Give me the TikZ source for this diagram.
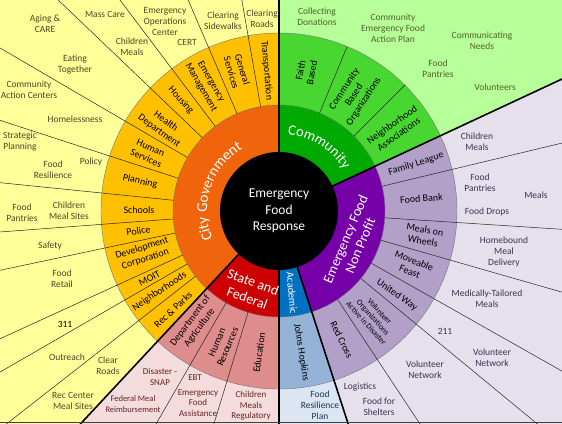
\documentclass[tikz,border=0pt]{standalone}
\usepackage{fontspec}
\setmainfont{Carlito}
\usetikzlibrary{calc}
\usetikzlibrary{decorations.text}

\definecolor{cityInner}{RGB}{240,100,12}
\definecolor{cityMid}{RGB}{255,192,0}
\definecolor{cityOuter}{RGB}{255,255,153}
\definecolor{cityText}{RGB}{74,72,36}
\definecolor{commInner}{RGB}{0,170,0}
\definecolor{commMid}{RGB}{72,214,48}
\definecolor{commOuter}{RGB}{183,255,153}
\definecolor{commText}{RGB}{79,98,40}
\definecolor{npInner}{RGB}{118,0,168}
\definecolor{npMid}{RGB}{178,160,200}
\definecolor{npOuter}{RGB}{230,224,236}
\definecolor{npText}{RGB}{64,49,82}
\definecolor{stateInner}{RGB}{204,0,0}
\definecolor{stateMid}{RGB}{222,140,140}
\definecolor{stateOuter}{RGB}{244,220,220}
\definecolor{stateText}{RGB}{99,37,35}
\definecolor{acadInner}{RGB}{0,112,192}
\definecolor{acadMid}{RGB}{149,179,215}
\definecolor{acadOuter}{RGB}{220,230,242}
\definecolor{acadText}{RGB}{23,55,94}

\begin{document}
\begin{tikzpicture}
		[x=1pt, y=1pt,
			outer/.style={align=center, inner sep=0pt, font=\fontsize{9.5}{11}\selectfont},
			mid/.style={align=center, inner sep=0pt, text=black, font=\fontsize{10}{11.5}\selectfont},
			inner/.style={align=center, inner sep=0pt, text=white, font=\fontsize{15}{17}\selectfont},
			subline/.style={draw=black!85, line width=0.5pt},
			mainline/.style={draw=black, line width=1.6pt},
			ringline/.style={draw=black!55, line width=0.4pt}]
		\useasboundingbox (0,0) rectangle (562,-423);
		\clip (0,0) rectangle (562,-423);
		% centre of the wheel
		\coordinate (c) at (279,-211);
		% outer areas
		\fill[cityOuter] (c) -- ++(90:800) arc[start angle=90, end angle=227, radius=800] -- cycle;
		\fill[stateOuter] (c) -- ++(227:800) arc[start angle=227, end angle=270, radius=800] -- cycle;
		\fill[acadOuter] (c) -- ++(270:800) arc[start angle=270, end angle=288, radius=800] -- cycle;
		\fill[npOuter] (c) -- ++(288:800) arc[start angle=288, end angle=385, radius=800] -- cycle;
		\fill[commOuter] (c) -- ++(25:800) arc[start angle=25, end angle=90, radius=800] -- cycle;
		% middle ring
		\fill[cityMid] (c) -- ++(90:178) arc[start angle=90, end angle=227, radius=178] -- cycle;
		\fill[stateMid] (c) -- ++(227:178) arc[start angle=227, end angle=270, radius=178] -- cycle;
		\fill[acadMid] (c) -- ++(270:178) arc[start angle=270, end angle=288, radius=178] -- cycle;
		\fill[npMid] (c) -- ++(288:178) arc[start angle=288, end angle=385, radius=178] -- cycle;
		\fill[commMid] (c) -- ++(25:178) arc[start angle=25, end angle=90, radius=178] -- cycle;
		% inner ring
		\fill[cityInner] (c) -- ++(90:106) arc[start angle=90, end angle=227, radius=106] -- cycle;
		\fill[stateInner] (c) -- ++(227:106) arc[start angle=227, end angle=270, radius=106] -- cycle;
		\fill[acadInner] (c) -- ++(270:106) arc[start angle=270, end angle=288, radius=106] -- cycle;
		\fill[npInner] (c) -- ++(288:106) arc[start angle=288, end angle=385, radius=106] -- cycle;
		\fill[commInner] (c) -- ++(25:106) arc[start angle=25, end angle=90, radius=106] -- cycle;
		\draw[ringline] (c) circle (178);
		\draw[ringline] (c) circle (106);
		% city government dividers
		\draw[subline] ($(c)+(100:106)$) -- ($(c)+(100:800)$);
		\draw[subline] ($(c)+(113.3:106)$) -- ($(c)+(113.3:800)$);
		\draw[subline] ($(c)+(127:106)$) -- ($(c)+(127:800)$);
		\draw[subline] ($(c)+(136.3:106)$) -- ($(c)+(136.3:800)$);
		\draw[subline] ($(c)+(149.7:106)$) -- ($(c)+(149.7:800)$);
		\draw[subline] ($(c)+(162:106)$) -- ($(c)+(162:800)$);
		\draw[subline] ($(c)+(174.2:106)$) -- ($(c)+(174.2:800)$);
		\draw[subline] ($(c)+(184.3:106)$) -- ($(c)+(184.3:800)$);
		\draw[subline] ($(c)+(192:106)$) -- ($(c)+(192:800)$);
		\draw[subline] ($(c)+(204.6:106)$) -- ($(c)+(204.6:800)$);
		\draw[subline] ($(c)+(210:106)$) -- ($(c)+(210:800)$);
		\draw[subline] ($(c)+(218:106)$) -- ($(c)+(218:800)$);
		% state and federal dividers
		\draw[subline] ($(c)+(240:106)$) -- ($(c)+(240:800)$);
		\draw[subline] ($(c)+(253:106)$) -- ($(c)+(253:800)$);
		% non profit dividers
		\draw[subline] ($(c)+(303.5:106)$) -- ($(c)+(303.5:800)$);
		\draw[subline] ($(c)+(320.5:106)$) -- ($(c)+(320.5:800)$);
		\draw[subline] ($(c)+(330.5:106)$) -- ($(c)+(330.5:800)$);
		\draw[subline] ($(c)+(344:106)$) -- ($(c)+(344:800)$);
		\draw[subline] ($(c)+(356.3:106)$) -- ($(c)+(356.3:800)$);
		\draw[subline] ($(c)+(13.5:106)$) -- ($(c)+(13.5:800)$);
		% community dividers (middle ring only)
		\draw[subline] ($(c)+(45:106)$) -- ($(c)+(45:178)$);
		\draw[subline] ($(c)+(67.5:106)$) -- ($(c)+(67.5:178)$);
		% main dividers
		\draw[mainline] ($(c)+(25:59)$) -- ($(c)+(25:800)$);
		\draw[mainline] ($(c)+(90:59)$) -- ($(c)+(90:800)$);
		\draw[mainline] ($(c)+(227:59)$) -- ($(c)+(227:800)$);
		\draw[mainline] ($(c)+(270:59)$) -- ($(c)+(270:800)$);
		\draw[mainline] ($(c)+(288:59)$) -- ($(c)+(288:800)$);
		\draw[black!75, line width=1pt] (0,-422.5) -- (562,-422.5);
		% centre
		\fill[black] (c) circle (59);
		\node[inner, font=\fontsize{13.5}{16.5}\selectfont] (response) at (c) {Emergency\\Food\\Response};
		% inner ring labels, curved ones follow the arc
		\path[decorate, decoration={text along path, text align=center, text color=white,
			text={|\fontsize{15}{17}\selectfont|City Government}}]
			($(c)+(215:72)$) arc[start angle=215, end angle=108, radius=72];
		\path[decorate, decoration={text along path, text align=center, text color=white,
			text={|\fontsize{14.5}{17}\selectfont|Community}}]
			($(c)+(90:77)$) arc[start angle=90, end angle=26, radius=77];
		\node[inner, rotate=67, font=\fontsize{14}{16}\selectfont] (nonProfit) at ($(c)+(-23:80)$) {Emergency Food\\Non Profit};
		\node[inner, rotate=-20, font=\fontsize{14}{17}\selectfont] (stateFed) at ($(c)+(250:84)$) {State and\\Federal};
		\node[inner, rotate=-85, font=\fontsize{10.5}{12}\selectfont] (academic) at ($(c)+(279:83)$) {Academic};
		% middle ring labels, city government
		\node[mid, rotate=-85] (transport) at ($(c)+(95:141)$) {Transportation};
		\node[mid, rotate=-73.3] (genServices) at ($(c)+(106.7:146)$) {General\\Services};
		\node[mid, rotate=-60] (emergMgmt) at ($(c)+(120:146)$) {Emergency\\Management};
		\node[mid, rotate=-48.5] (housing) at ($(c)+(131.5:148)$) {Housing};
		\node[mid, rotate=-36] (health) at ($(c)+(144:144)$) {Health\\Department};
		\node[mid, rotate=-24] (humanServ) at ($(c)+(156:143)$) {Human\\Services};
		\node[mid, rotate=-12] (planning) at ($(c)+(168:142)$) {Planning};
		\node[mid, rotate=0] (schools) at ($(c)+(179.5:140)$) {Schools};
		\node[mid, rotate=8] (police) at ($(c)+(188:142)$) {Police};
		\node[mid, rotate=17.5] (devCorp) at ($(c)+(197.5:142)$) {Development\\Corporation};
		\node[mid, rotate=27.5] (moit) at ($(c)+(207.5:146)$) {MOIT};
		\node[mid, rotate=34] (neighborhoods) at ($(c)+(214:144)$) {Neighborhoods};
		\node[mid, rotate=43] (recParks) at ($(c)+(223:145)$) {Rec \& Parks};
		% middle ring labels, state and federal, academic
		\node[mid, rotate=53.5] (agriculture) at ($(c)+(233.5:141)$) {Department of\\Agriculture};
		\node[mid, rotate=67] (humanRes) at ($(c)+(247:145)$) {Human\\Resources};
		\node[mid, rotate=82] (education) at ($(c)+(262:143)$) {Education};
		\node[mid, rotate=-81] (hopkins) at ($(c)+(279:143)$) {Johns Hopkins};
		% middle ring labels, non profit
		\node[mid, rotate=-64] (redCross) at ($(c)+(-64:143)$) {Red Cross};
		\node[mid, rotate=-48, font=\fontsize{8}{9}\selectfont] (voad) at ($(c)+(-48.5:142)$) {Volunteer\\Organizations\\Active in Disaster};
		\node[mid, rotate=-35] (unitedWay) at ($(c)+(-35.5:145)$) {United Way};
		\node[mid, rotate=-22] (moveable) at ($(c)+(-22.5:144)$) {Moveable\\Feast};
		\node[mid, rotate=-10] (mealsWheels) at ($(c)+(-9.5:147)$) {Meals on\\Wheels};
		\node[mid, rotate=4] (foodBank) at ($(c)+(5:143)$) {Food Bank};
		\node[mid, rotate=18] (familyLeague) at ($(c)+(19:145)$) {Family League};
		% middle ring labels, community
		\node[mid, rotate=35] (neighAssoc) at ($(c)+(35:142)$) {Neighborhood\\Associations};
		\node[mid, rotate=57] (commBased) at ($(c)+(57:138)$) {Community\\Based\\Organizations};
		\node[mid, rotate=79] (faithBased) at ($(c)+(79:142)$) {Faith\\Based};
		% outer labels, city government
		\node[outer, text=cityText] (clearingRoads) at (262,-19) {Clearing\\Roads};
		\node[outer, text=cityText] (clearingSidewalks) at (223,-21) {Clearing\\Sidewalks};
		\node[outer, text=cityText] (eoc) at (165,-21) {Emergency\\Operations\\Center};
		\node[outer, text=cityText] (cert) at (187,-42) {CERT};
		\node[outer, text=cityText] (massCare) at (105,-14) {Mass Care};
		\node[outer, text=cityText] (childrenMeals) at (132,-47) {Children\\Meals};
		\node[outer, text=cityText] (agingCare) at (45,-24) {Aging \&\\CARE};
		\node[outer, text=cityText] (eating) at (75,-65) {Eating\\Together};
		\node[outer, text=cityText] (actionCenters) at (29,-90) {Community\\Action Centers};
		\node[outer, text=cityText] (homelessness) at (75,-119) {Homelessness};
		\node[outer, text=cityText] (strategic) at (20,-142) {Strategic\\Planning};
		\node[outer, text=cityText] (foodResilience) at (53,-170) {Food\\Resilience};
		\node[outer, text=cityText] (policy) at (91,-162) {Policy};
		\node[outer, text=cityText] (foodPantries) at (22,-213) {Food\\Pantries};
		\node[outer, text=cityText] (mealSites) at (69,-211) {Children\\Meal Sites};
		\node[outer, text=cityText] (safety) at (50,-246) {Safety};
		\node[outer, text=cityText] (foodRetail) at (62,-279) {Food\\Retail};
		\node[outer, text=black] (phone) at (65,-324) {311};
		\node[outer, text=cityText] (outreach) at (67,-357) {Outreach};
		\node[outer, text=cityText] (clearRoads) at (108,-366) {Clear\\Roads};
		\node[outer, text=cityText] (recCenter) at (73,-401) {Rec Center\\Meal Sites};
		% outer labels, state and federal, academic
		\node[outer, text=stateText, font=\fontsize{9}{11}\selectfont] (snap) at (160,-377) {Disaster -\\SNAP};
		\node[outer, text=stateText, font=\fontsize{8.5}{10.5}\selectfont] (reimburse) at (133,-404) {Federal Meal\\Reimbursement};
		\node[outer, text=stateText, font=\fontsize{9}{10.5}\selectfont] (ebt) at (195,-378) {EBT};
		\node[outer, text=stateText, font=\fontsize{9}{10.5}\selectfont] (foodAssist) at (198,-403) {Emergency\\Food\\Assistance};
		\node[outer, text=stateText, font=\fontsize{9}{10.5}\selectfont] (regulatory) at (251,-406) {Children\\Meals\\Regulatory};
		\node[outer, text=acadText, font=\fontsize{9.5}{11}\selectfont] (resPlan) at (320,-405) {Food\\Resilience\\Plan};
		% outer labels, non profit
		\node[outer, text=npText] (logistics) at (360,-387) {Logistics};
		\node[outer, text=npText] (shelters) at (379,-407) {Food for\\Shelters};
		\node[outer, text=npText] (volNetA) at (425,-370) {Volunteer\\Network};
		\node[outer, text=npText] (helpLine) at (445,-331) {211};
		\node[outer, text=npText] (volNetB) at (492,-358) {Volunteer\\Network};
		\node[outer, text=npText] (tailored) at (487,-299) {Medically-Tailored\\Meals};
		\node[outer, text=npText] (homebound) at (504,-252) {Homebound\\Meal\\Delivery};
		\node[outer, text=npText] (pantriesNP) at (480,-183) {Food\\Pantries};
		\node[outer, text=npText] (foodDrops) at (487,-212) {Food Drops};
		\node[outer, text=npText] (mealsNP) at (536,-195) {Meals};
		\node[outer, text=npText] (childMealsNP) at (477,-142) {Children\\Meals};
		% outer labels, community
		\node[outer, text=commText] (donations) at (317,-17) {Collecting\\Donations};
		\node[outer, text=commText] (actionPlan) at (393,-28) {Community\\Emergency Food\\Action Plan};
		\node[outer, text=commText] (needs) at (482,-41) {Communicating\\Needs};
		\node[outer, text=commText] (pantriesCom) at (438,-69) {Food\\Pantries};
		\node[outer, text=commText] (volunteers) at (495,-87) {Volunteers};
	\end{tikzpicture}
\end{document}
